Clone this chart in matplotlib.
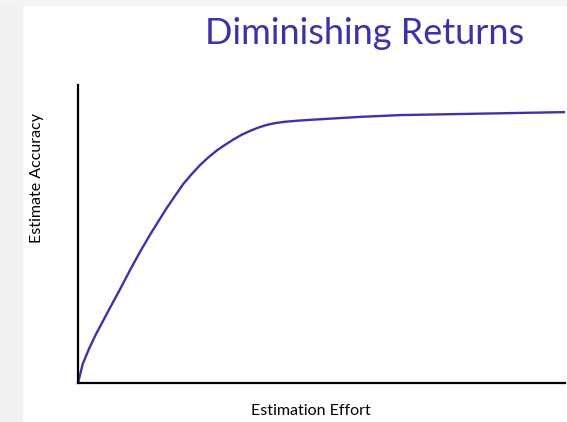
import matplotlib
matplotlib.use("Agg")
from matplotlib import pyplot as plt
from matplotlib.patches import Rectangle

# values (effort 0-10, accuracy 0-100)
effort = [0.0, 0.097, 0.232, 0.370, 0.507, 0.643, 0.848, 1.053, 1.273, 1.499,
          1.821, 1.992, 2.162, 2.335, 2.505, 2.676, 2.848, 3.018, 3.189,
          3.361, 3.532, 3.702, 3.875, 4.045, 4.216, 4.491, 4.764,
          5.791, 6.612, 10.0]
accuracy = [0.0, 6.4, 11.7, 16.4, 20.6, 24.8, 31.0, 37.4, 44.0, 50.3,
            58.7, 62.8, 66.8, 70.1, 73.1, 75.7, 78.0, 79.9, 81.7,
            83.3, 84.6, 85.7, 86.6, 87.2, 87.6, 88.0, 88.3,
            89.3, 89.9, 90.9]

title = 'Diminishing Returns'
xlabel = 'Estimation Effort'
ylabel = 'Estimate Accuracy'

blue = '#3d33a8'
fn = {'family': 'Lato'}

fig = plt.figure(figsize=(5.67, 4.22), dpi=100)

# faint grey border strips from the slide capture
fig.patches.append(Rectangle((0, 0), 22 / 567, 1, transform=fig.transFigure,
                             color='#f1f1f1', zorder=0))
fig.patches.append(Rectangle((0, 1 - 5 / 422), 1, 5 / 422, transform=fig.transFigure,
                             color='#f4f4f4', zorder=0))

ax = fig.add_axes([78 / 567, 39 / 422, 487 / 567, 298 / 422])
ax.patch.set_alpha(0)
ax.plot(effort, accuracy, color=blue, lw=1.7, solid_capstyle='round',
        solid_joinstyle='round')
ax.set_xlim(0, 10)
ax.set_ylim(0, 100)
ax.set_xticks([])
ax.set_yticks([])
for s in ['top', 'right']:
    ax.spines[s].set_visible(False)
for s in ['left', 'bottom']:
    ax.spines[s].set_linewidth(1.6)
    ax.spines[s].set_color('black')

fig.text(365 / 567, 1 - 34 / 422, title, color=blue, fontsize=26,
         ha='center', va='center', **fn)
fig.text(311 / 567, 1 - 411 / 422, xlabel, fontsize=11.5,
         ha='center', va='center', **fn)
fig.text(37 / 567, 1 - 178 / 422, ylabel, fontsize=11.5, rotation=90,
         ha='center', va='center', **fn)

fig.savefig('out.png', dpi=100)
